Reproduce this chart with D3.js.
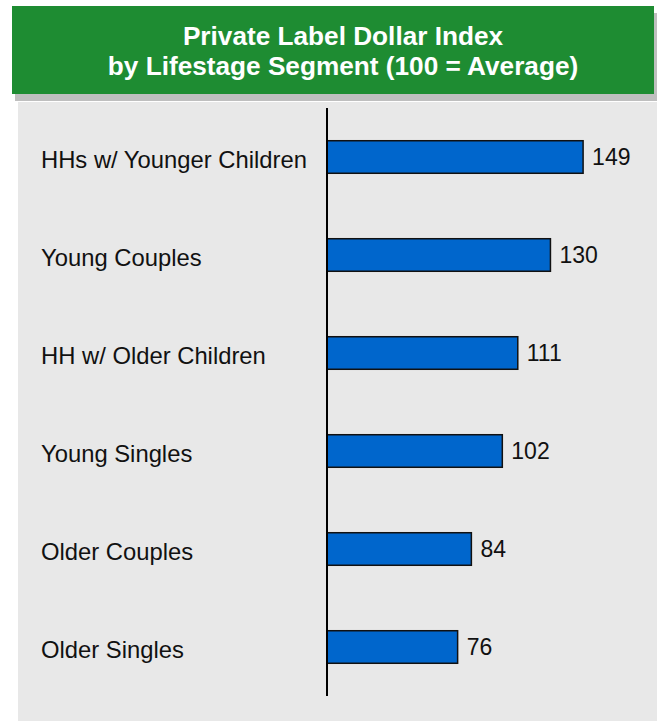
<!DOCTYPE html>
<html>
<head>
<meta charset="utf-8">
<script src="https://cdn.jsdelivr.net/npm/d3@7"></script>
<style>
  html, body { margin: 0; padding: 0; background: #ffffff; }
  svg { display: block; }
</style>
</head>
<body>
<svg id="chart" width="657" height="722"></svg>
<script>
// Lifestage segments and their private label dollar index (100 = average)
const segments = [
  "HHs w/ Younger Children",
  "Young Couples",
  "HH w/ Older Children",
  "Young Singles",
  "Older Couples",
  "Older Singles"
];
const indexValues = [149, 130, 111, 102, 84, 76];
const titleLines = [
  "Private Label Dollar Index",
  "by Lifestage Segment (100 = Average)"
];

const svg = d3.select("#chart");
const font = "Liberation Sans, Arial, Helvetica, sans-serif";

// Title banner with drop shadow
svg.append("rect").attr("x", 15).attr("y", 13).attr("width", 642).attr("height", 88)
  .attr("fill", "#bfbfbf");
svg.append("rect").attr("x", 12).attr("y", 6).attr("width", 642).attr("height", 88)
  .attr("fill", "#1e8c32");
svg.append("g").selectAll("text").data(titleLines).join("text")
  .attr("x", 343)
  .attr("y", (d, i) => 45 + i * 30)
  .attr("text-anchor", "middle")
  .attr("font-family", font)
  .attr("font-weight", "bold")
  .attr("font-size", 26.2)
  .attr("fill", "#ffffff")
  .text(d => d);

// Chart panel
svg.append("rect").attr("x", 18).attr("y", 102).attr("width", 639).attr("height", 619)
  .attr("fill", "#e8e8e8");

// Scales
const y = d3.scaleBand()
  .domain(segments)
  .range([108, 696])
  .paddingInner(0.668)
  .paddingOuter(0.334);

const x = d3.scaleLinear()
  .domain([0, 160])
  .range([327, 602]);

const rows = segments.map((s, i) => ({ name: s, value: indexValues[i] }));

// Bars
svg.append("g").selectAll("rect").data(rows).join("rect")
  .attr("x", x(0))
  .attr("y", d => y(d.name))
  .attr("width", d => x(d.value) - x(0))
  .attr("height", y.bandwidth())
  .attr("fill", "#0066cc")
  .attr("stroke", "#111111")
  .attr("stroke-width", 1.5);

// Vertical baseline axis at zero
svg.append("line")
  .attr("x1", x(0)).attr("x2", x(0))
  .attr("y1", 108).attr("y2", 696)
  .attr("stroke", "#000000")
  .attr("stroke-width", 2);

// Category labels
svg.append("g").selectAll("text").data(rows).join("text")
  .attr("x", 41)
  .attr("y", d => y(d.name) + y.bandwidth() / 2 + 10.5)
  .attr("font-family", font)
  .attr("font-size", 23.8)
  .attr("fill", "#111111")
  .text(d => d.name);

// Value labels
svg.append("g").selectAll("text").data(rows).join("text")
  .attr("x", d => x(d.value) + 9)
  .attr("y", d => y(d.name) + y.bandwidth() / 2 + 8)
  .attr("font-family", font)
  .attr("font-size", 23)
  .attr("fill", "#111111")
  .text(d => d.value);
</script>
</body>
</html>
